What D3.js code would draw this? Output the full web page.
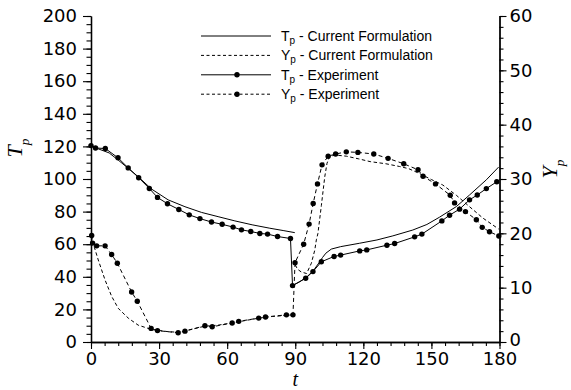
<!DOCTYPE html>
<html><head><meta charset="utf-8">
<script src="https://cdn.jsdelivr.net/npm/d3@7"></script>
<style>
html,body{margin:0;padding:0;background:#fff;}
svg{display:block;}
.tick text{font-family:"DejaVu Sans",sans-serif;font-size:18px;fill:#000;}
</style></head>
<body>
<svg id="chart" width="571" height="390"></svg>
<script>
// ---------- data ----------
const xTicks = [0, 30, 60, 90, 120, 150, 180];
const tTicks = [0, 20, 40, 60, 80, 100, 120, 140, 160, 180, 200];
const yTicks = [0, 10, 20, 30, 40, 50, 60];

// T_p experiment [t, T]
const tpExpT = [0,2,6.3,11.9,16.4,21,25.7,29.3,33.7,38.7,43.3,48,53.1,57.8,62.6,66.3,70.4,74.4,77.8,82.2,87.9,88.8,94.6,97.8,101.5,107.1,110,118.4,121.5,130.4,133.8,142.6,145.8,154.6,158,162.4,166.8,170.2,174.2,178.8];
const tpExpV = [120.5,119,118.7,113,106.8,100.8,94.2,88.7,84.8,81.3,78,75.7,73.6,72.2,70.5,68.8,67.8,66.6,66.2,64.7,63.5,34.6,39.1,43.2,49.2,52.5,53.3,55.9,56.5,59.4,60.4,64.5,66.2,74.3,77.8,81.5,87.2,90.2,94.1,98.3];

// Y_p experiment [t, Y]
const ypExpT = [0.3,0.7,2.5,6.2,9.1,11.6,17.9,20.4,26.5,29.3,38.4,41.4,50.2,53.4,62.2,65.1,73.9,76.9,86.1,89,89.9,93.7,96.1,97.9,99.8,101.8,104.5,107.8,112.5,117.6,124.6,130.9,137.8,144.1,146.3,151.8,158.3,160.2,165,169.8,172.4,175.6,179.7];
const ypExpV = [19.6,18.2,17.7,17.7,16.1,14.5,9.2,7.5,2.5,2.1,1.7,2.0,3.0,2.8,3.5,3.8,4.4,4.6,5.0,5.0,14.6,18.0,21.7,25.5,29.1,32.6,34.2,34.6,35.0,34.9,34.6,33.8,32.8,31.7,30.5,29.1,27.0,25.6,24.0,22.5,21.1,20.3,19.5];

// T_p current formulation (two segments)
const tpModT1 = [0,3.2,8,12,16,20.8,26.7,34,41.4,48.7,56,63.4,71,78.8,85,89.8];
const tpModV1 = [120.5,118.5,116,111.6,107,101.4,93.8,87.2,83,79.5,76.9,74.3,71.9,69.8,68.3,67.1];
const tpModT2 = [88.8,92,95,98,100.5,102,103.5,105.9,110,118.4,126,133,141.8,148,153.6,161,166.8,174.2,179.6];
const tpModV2 = [34.6,37,39.8,43.8,48.7,51.8,54.5,57,58.5,60.6,62.6,65.1,68.7,72.1,76.6,83.1,90.2,99.5,107.3];

// Y_p current formulation (two segments)
const ypModT1 = [0,1.5,3.2,6.2,9.1,12,16.4,20.8,26.7,34,38,42,50,56,62,66,74,80,89];
const ypModV1 = [18.5,17.4,15.1,11.4,8.4,6.2,4.4,3.1,2.3,1.9,1.8,2.1,2.9,3.1,3.5,3.8,4.4,4.7,5.0];
const ypModT2 = [90,91,92.6,95,97.1,98.6,99.3,100,101.5,103,104,105.2,108,112.5,118,123,130,136,140,144.8,150,155,161,166.8,172.7,179.6];
const ypModV2 = [14.2,13.4,12.9,12.6,14.5,16.9,18.8,20,25.1,30.4,32.9,34.2,34.4,34.2,33.7,33.2,32.8,32.3,31.9,31.0,29.9,28.9,27.0,24.9,22.8,20.8];

const legendLabels = [
  ["T","p"," - Current Formulation"],
  ["Y","p"," - Current Formulation"],
  ["T","p"," - Experiment"],
  ["Y","p"," - Experiment"]
];

// ---------- chart ----------
const svg = d3.select("#chart");
const L = 91, R = 499.5, T = 16, B = 342;
const x = d3.scaleLinear().domain([0,180]).range([L,R]);
const yT = d3.scaleLinear().domain([0,200]).range([B,T]);
const yY = d3.scaleLinear().domain([0,60]).range([B,T]);

function axisStyle(g){
  g.select(".domain").attr("stroke","#000").attr("stroke-width",1.3);
  g.selectAll(".tick line").attr("stroke","#000").attr("stroke-width",1.1);
}

// minor ticks
svg.append("g").attr("transform",`translate(0,${B})`)
  .call(d3.axisBottom(x).tickValues(d3.range(0,181,6)).tickSize(4).tickFormat("").tickSizeOuter(0))
  .call(axisStyle);
svg.append("g").attr("transform",`translate(${L},0)`)
  .call(d3.axisLeft(yT).tickValues(d3.range(0,201,5)).tickSize(4.5).tickFormat("").tickSizeOuter(0))
  .call(axisStyle);
svg.append("g").attr("transform",`translate(${R},0)`)
  .call(d3.axisRight(yY).tickValues(d3.range(0,61,2)).tickSize(4).tickFormat("").tickSizeOuter(0))
  .call(axisStyle);

// major ticks
svg.append("g").attr("transform",`translate(0,${B})`)
  .call(d3.axisBottom(x).tickValues(xTicks).tickSize(7).tickPadding(3).tickSizeOuter(0))
  .call(axisStyle);
svg.append("g").attr("transform",`translate(${L},0)`)
  .call(d3.axisLeft(yT).tickValues(tTicks).tickSize(8).tickPadding(6).tickSizeOuter(0))
  .call(axisStyle);
const rightAxis = svg.append("g").attr("transform",`translate(${R},0)`)
  .call(d3.axisRight(yY).tickValues(yTicks).tickSize(7).tickPadding(3).tickSizeOuter(0))
  .call(axisStyle);
rightAxis.selectAll(".tick text").filter(d=>d===0).attr("dy","0.2em");

svg.selectAll(".tick text").attr("font-family","DejaVu Sans, sans-serif").attr("font-size",18);

// axis titles
function subLabel(g, main, sub, size){
  const t = g.append("text").attr("font-family","Liberation Serif, serif").attr("font-style","italic").attr("font-size",size).attr("text-anchor","middle");
  t.append("tspan").text(main);
  t.append("tspan").attr("font-size",size*0.6).attr("dy",size*0.3).text(sub);
  return t;
}
subLabel(svg.append("g").attr("transform","translate(22,148) rotate(-90)"), "T","p",22);
subLabel(svg.append("g").attr("transform","translate(557,169) rotate(-90)"), "Y","p",22);
svg.append("text").attr("x",x(90)).attr("y",385.5).attr("text-anchor","middle")
  .attr("font-family","Liberation Serif, serif").attr("font-style","italic").attr("font-size",20).text("t");

// lines
const lineT = d3.line().x(d=>x(d[0])).y(d=>yT(d[1]));
const lineY = d3.line().x(d=>x(d[0])).y(d=>yY(d[1]));
const zip = (a,b)=>a.map((v,i)=>[v,b[i]]);

const plot = svg.append("g");
function path(data, gen, dash){
  plot.append("path").datum(data).attr("d",gen).attr("fill","none").attr("stroke","#000")
    .attr("stroke-width",1).attr("stroke-dasharray",dash||null);
}
path(zip(tpModT1,tpModV1), lineT);
path(zip(tpModT2,tpModV2), lineT);
path(zip(ypModT1,ypModV1), lineY, "3.5,2.5");
path(zip(ypModT2,ypModV2), lineY, "3.5,2.5");
path(zip(tpExpT,tpExpV), lineT);
path(zip(ypExpT,ypExpV), lineY, "4,3");

plot.selectAll("circle.te").data(zip(tpExpT,tpExpV)).enter().append("circle")
  .attr("cx",d=>x(d[0])).attr("cy",d=>yT(d[1])).attr("r",2.7).attr("fill","#000");
plot.selectAll("circle.ye").data(zip(ypExpT,ypExpV)).enter().append("circle")
  .attr("cx",d=>x(d[0])).attr("cy",d=>yY(d[1])).attr("r",2.7).attr("fill","#000");

// legend
const legY0 = 36, legDy = 19.4;
const leg = svg.append("g");
legendLabels.forEach((lab,i)=>{
  const yy = legY0 + i*legDy;
  const dash = (i%2===1) ? "3,2.5" : null;
  leg.append("line").attr("x1",201).attr("x2",271).attr("y1",yy).attr("y2",yy)
    .attr("stroke","#000").attr("stroke-width",1).attr("stroke-dasharray",dash);
  if(i>=2) leg.append("circle").attr("cx",237).attr("cy",yy).attr("r",2.7).attr("fill","#000");
  const t = leg.append("text").attr("x",281).attr("y",yy+5).attr("font-family","Liberation Sans, Arial, sans-serif").attr("font-size",14);
  t.append("tspan").text(lab[0]);
  t.append("tspan").attr("font-size",10).attr("dy",3).text(lab[1]);
  t.append("tspan").attr("dy",-3).text(lab[2]);
});
</script>
</body></html>
